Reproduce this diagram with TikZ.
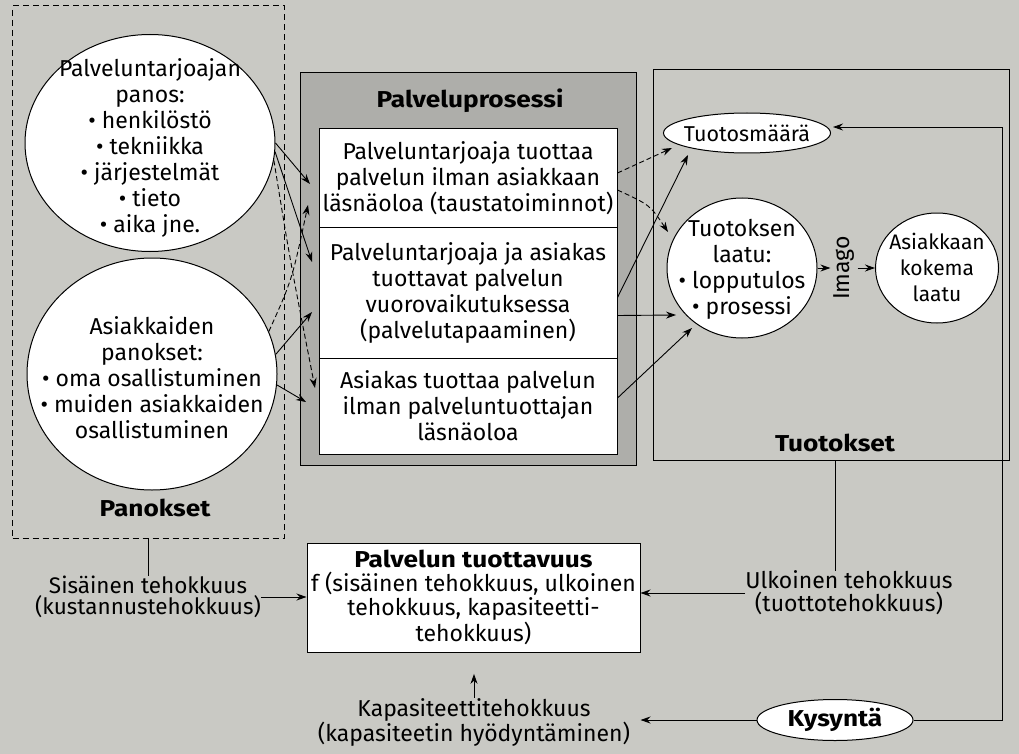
\documentclass[tikz,border=0pt]{standalone}
\usepackage{fontspec}
\setmainfont{Fira Sans}
\usetikzlibrary{shapes.geometric,arrows.meta,calc}
\definecolor{bgc}{RGB}{201,201,196}
\definecolor{midc}{RGB}{174,174,170}
\newcommand{\wbf}[1]{\scalebox{1.14}[1]{\bfseries #1}}
\begin{document}
\begin{tikzpicture}[x=1pt,y=-1pt,
  every node/.style={font=\fontsize{23}{26}\selectfont, inner sep=0pt},
  ell/.style={ellipse, draw, fill=white, line width=1pt},
  ctx/.style={align=center},
  wbox/.style={draw, fill=white, line width=1pt, align=center, minimum width=298pt},
  lbl/.style={align=center},
  ttl/.style={font=\fontsize{23}{26}\selectfont},
  arr/.style={-{Stealth[length=10pt,width=7pt]}, line width=0.9pt},
  darr/.style={arr, dash pattern=on 5pt off 3pt},
  ln/.style={line width=1pt}
]
\fill[bgc] (0,0) rectangle (1019,754);
\useasboundingbox (0,0) rectangle (1019,754);

% Panokset (inputs)
\node[draw, line width=1pt, dash pattern=on 6pt off 4pt, minimum width=272pt, minimum height=532pt] (pan) at (148.5,272) {};
\node[ell, minimum width=250pt, minimum height=217pt] (pt) at (150,143) {};
\node[ctx] (ptx) at (150,148)
  {Palveluntarjoajan\\panos:\\\textbullet\ henkilöstö\\\textbullet\ tekniikka\\\textbullet\ järjestelmät\\\textbullet\ tieto\\\textbullet\ aika jne.};
\node[ell, minimum width=250pt, minimum height=232pt] (pb) at (152,374) {};
\node[ctx] (pbx) at (152,378)
  {Asiakkaiden\\panokset:\\\textbullet\ oma osallistuminen\\\textbullet\ muiden asiakkaiden\\osallistuminen};
\node[ttl] (pant) at (155,508) {\wbf{Panokset}};

% Palveluprosessi
\node[draw, fill=midc, line width=1pt, minimum width=336pt, minimum height=392pt] (pp) at (468,269) {};
\node[ttl] (ppt) at (470,101) {\wbf{Palveluprosessi}};
\node[wbox, minimum height=98pt] (b1) at (468,178)
  {Palveluntarjoaja tuottaa\\palvelun ilman asiakkaan\\läsnäoloa (taustatoiminnot)};
\node[wbox, minimum height=131pt] (b2) at (468,292.5)
  {Palveluntarjoaja ja asiakas\\tuottavat palvelun\\vuorovaikutuksessa\\(palvelutapaaminen)};
\node[wbox, minimum height=96pt] (b3) at (468,406)
  {Asiakas tuottaa palvelun\\ilman palveluntuottajan\\läsnäoloa};

% Tuotokset
\node[draw, line width=1pt, minimum width=356pt, minimum height=390pt] (tk) at (831,265) {};
\node[ttl] (tkt) at (835,443) {\wbf{Tuotokset}};
\node[ell, minimum width=167pt, minimum height=40pt] (tm) at (747,133) {};
\node[ctx, font=\fontsize{21.5}{24}\selectfont] (tmx) at (747,133) {Tuotosmäärä};
\node[ell, minimum width=150pt, minimum height=140pt] (ql) at (742,268) {};
\node[ctx] (qlx) at (742,269)
  {Tuotoksen\\laatu:\\\textbullet\ lopputulos\\\textbullet\ prosessi};
\node[ell, minimum width=123pt, minimum height=110pt] (kok) at (937,268) {};
\node[ctx, font=\fontsize{21}{26}\selectfont] (kokx) at (937,267) {Asiakkaan\\kokema\\laatu};
\node[rotate=90, inner sep=3pt] (img) at (844,268) {Imago};

% bottom
\node[draw, fill=white, line width=1pt, align=center, minimum width=333pt, minimum height=109pt, font=\fontsize{23}{24}\selectfont] (bb) at (473.5,597.5)
  {\wbf{Palvelun tuottavuus}\\f (sisäinen tehokkuus, ulkoinen\\tehokkuus, kapasiteetti-\\tehokkuus)};
\node[lbl, font=\fontsize{22.5}{21}\selectfont] (sis) at (148,597) {Sisäinen tehokkuus\\(kustannustehokkuus)};
\node[lbl, font=\fontsize{23}{23}\selectfont] (ulk) at (849,593) {Ulkoinen tehokkuus\\(tuottotehokkuus)};
\node[lbl, font=\fontsize{23}{25}\selectfont] (kap) at (474,722) {Kapasiteettitehokkuus\\(kapasiteetin hyödyntäminen)};
\node[ell, minimum width=156pt, minimum height=41pt] (kys) at (835,720) {};
\node[ctx] (kysx) at (835,720) {\wbf{Kysyntä}};

% tips
\coordinate (a1e) at (310,184);
\coordinate (a2e) at (312,262);
\coordinate (a3e) at (315,388);
\coordinate (a4e) at (308,205);
\coordinate (a5e) at (312,312);
\coordinate (a6e) at (306,402);
\coordinate (d1e) at (672,148);
\coordinate (d2e) at (668,232);
\coordinate (s1e) at (688,155);
\coordinate (s2e) at (676,315);
\coordinate (s3e) at (692,328);
\coordinate (fb) at (1002,720);
\coordinate (tmr) at (833,127);

% inputs -> process
\draw[arr] (pt.east) -- (a1e);
\draw[arr] (pt.-4) -- (a2e);
\draw[darr] (pt.-8) .. controls (290,260) .. (a3e);
\draw[darr] (pb.20) .. controls (292,280) .. (a4e);
\draw[arr] (pb.9) -- (a5e);
\draw[arr] (pb.-5) -- (a6e);

% process -> outputs
\draw[darr] ($(b1.east)+(0,-5)$) -- (d1e);
\draw[darr] ($(b1.east)+(0,12)$) .. controls (650,205) .. (d2e);
\draw[arr] ($(b2.east)+(0,5)$) -- (s1e);
\draw[arr] ($(b2.east)+(0,23)$) -- (s2e);
\draw[arr] ($(b3.east)+(0,-8)$) -- (s3e);

% imago
\draw[arr] (ql.east) -- (ql.east -| img.north);
\draw[arr] (img.south |- kok.west) -- (kok.west);

% feedback from demand
\draw[arr] (kys.east) -- (fb) |- (tmr);

% efficiencies
\draw[ln] (sis.north |- pan.south) -- (sis.north);
\draw[ln] (tkt |- tk.south) -- (tkt |- ulk.north);
\draw[arr] (sis.east) -- (sis.east -| bb.west);
\draw[arr] (ulk.west) -- (ulk.west -| bb.east);
\draw[arr] (kys.west) -- (kys.west -| bb.east);
\draw[arr] (kap.north) -- ++(0,-24);
\end{tikzpicture}
\end{document}
